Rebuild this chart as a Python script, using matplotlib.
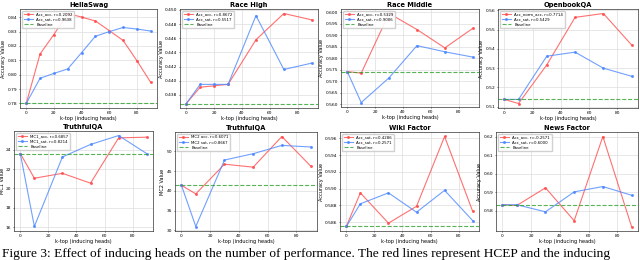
import numpy as np
import matplotlib
matplotlib.use("Agg")
import matplotlib.pyplot as plt

# k-top values (inducing heads)
k_full = [0, 10, 20, 30, 40, 50, 60, 70, 80, 90]
k_hr = [0, 10, 20, 30, 50, 70, 90]
k_short = [0, 10, 30, 50, 70, 90]

# HellaSwag
hs_acc = [0.780, 0.8144, 0.8279, 0.8425, 0.8400, 0.8373, 0.8306, 0.8238, 0.8097, 0.7946]
hs_sat = [0.780, 0.7975, 0.8009, 0.8040, 0.8153, 0.8267, 0.8299, 0.8328, 0.8317, 0.8303]
hs_base = 0.780

# Race High
rh_acc = [0.4368, 0.4391, 0.4393, 0.4395, 0.4458, 0.4495, 0.4486]
rh_sat = [0.4368, 0.4395, 0.4395, 0.4395, 0.4492, 0.4416, 0.4425]
rh_base = 0.4368

# Race Middle
rm_acc = [0.5742, 0.5735, 0.5995, 0.5925, 0.5845, 0.5930]
rm_sat = [0.5742, 0.5607, 0.5715, 0.5855, 0.5828, 0.5805]
rm_base = 0.5742

# OpenbookQA
ob_acc = [0.5138, 0.5117, 0.5317, 0.5563, 0.5583, 0.5420]
ob_sat = [0.5138, 0.5138, 0.5362, 0.5383, 0.5300, 0.5258]
ob_base = 0.5138

# TruthfulQA MC1
mc1_acc = [23.6, 21.05, 21.56, 20.54, 25.22, 25.29]
mc1_sat = [23.6, 16.07, 23.25, 24.54, 25.46, 23.6]
mc1_base = 23.6

# TruthfulQA MC2
mc2_acc = [41.4, 39.25, 46.75, 46.0, 53.75, 46.3]
mc2_sat = [41.4, 31.0, 47.8, 49.4, 51.5, 51.1]
mc2_base = 41.4

# Wiki Factor
wf_acc = [0.5855, 0.5895, 0.5859, 0.5879, 0.5962, 0.5873]
wf_sat = [0.5855, 0.5882, 0.5895, 0.5872, 0.5898, 0.5862]
wf_base = 0.5855

# News Factor
nf_acc = [0.5833, 0.5829, 0.5924, 0.5747, 0.6200, 0.5716]
nf_sat = [0.5833, 0.5833, 0.5795, 0.5902, 0.5931, 0.5884]
nf_base = 0.5833

paneles = [
    ("HellaSwag", k_full, hs_acc, hs_sat, hs_base, "Accuracy Value",
     ["Acc_acc, r=0.2092", "Acc_sat, r=0.9638"], [0.78, 0.79, 0.80, 0.81, 0.82, 0.83, 0.84], "{:.2f}"),
    ("Race High", k_hr, rh_acc, rh_sat, rh_base, "Accuracy Value",
     ["Acc_acc, r=0.8672", "Acc_sat, r=0.5517"], [0.438, 0.440, 0.442, 0.444, 0.446, 0.448, 0.450], "{:.3f}"),
    ("Race Middle", k_short, rm_acc, rm_sat, rm_base, "Accuracy Value",
     ["Acc_acc, r=0.5329", "Acc_sat, r=0.9006"], [0.560, 0.565, 0.570, 0.575, 0.580, 0.585, 0.590, 0.595, 0.600], "{:.3f}"),
    ("OpenbookQA", k_short, ob_acc, ob_sat, ob_base, "Accuracy Value",
     ["Acc_norm_acc, r=0.7714", "Acc_sat, r=0.5429"], [0.51, 0.52, 0.53, 0.54, 0.55, 0.56], "{:.2f}"),
    ("TruthfulQA", k_short, mc1_acc, mc1_sat, mc1_base, "MC1 Value",
     ["MC1_acc, r=0.6857", "MC1_sat, r=0.8214"], [16, 18, 20, 22, 24], "{:.0f}"),
    ("TruthfulQA", k_short, mc2_acc, mc2_sat, mc2_base, "MC2 Value",
     ["MC2 acc, r=0.6071", "MC2 sat, r=0.8667"], [30, 35, 40, 45, 50], "{:.0f}"),
    ("Wiki Factor", k_short, wf_acc, wf_sat, wf_base, "Accuracy Value",
     ["Acc_sat, r=0.4286", "Acc_sat, r=0.2571"], [0.586, 0.588, 0.590, 0.592, 0.594, 0.596], "{:.3f}"),
    ("News Factor", k_short, nf_acc, nf_sat, nf_base, "Accuracy Value",
     ["Acc_acc, r=-0.2571", "Acc_sat, r=0.6000"], [0.58, 0.59, 0.60, 0.61, 0.62], "{:.2f}"),
]

# posiciones en pixeles (izq, arriba, der, abajo)
cajas = [
    (20, 9, 157, 108), (180, 9, 318, 108), (341, 9, 479, 107), (498, 9, 638, 108),
    (14, 131, 153, 231), (175, 132, 317, 231), (340, 132, 479, 231), (496, 132, 638, 231),
]

W, H = 640, 260
fig = plt.figure(figsize=(6.4, 2.6), dpi=100)

for (titulo, k, acc, sat, base, ylab, etiquetas, yt, fmt), (l, t, r, b) in zip(paneles, cajas):
    ax = fig.add_axes([l / W, 1 - b / H, (r - l) / W, (b - t) / H])
    ax.plot(k, acc, color="#ff4d4d", alpha=0.8, lw=0.8, marker="o", ms=1.2, label=etiquetas[0])
    ax.plot(k, sat, color="#4d88ff", alpha=0.8, lw=0.8, marker="o", ms=1.2, label=etiquetas[1])
    ax.axhline(base, color="#2ca02c", ls="--", lw=0.8, alpha=0.8, label="Baseline")
    ax.set_title(titulo, fontsize=4.8, fontweight="bold", pad=1.2)
    ax.set_xlabel("k-top (inducing heads)", fontsize=3.6, labelpad=1)
    ax.set_ylabel(ylab, fontsize=3.6, labelpad=0.8)
    ax.set_xticks([0, 20, 40, 60, 80])
    ax.set_yticks(yt)
    ax.set_yticklabels([fmt.format(v) for v in yt])
    ax.tick_params(labelsize=3.2, length=1, width=0.4, pad=1)
    ax.grid(True, color="#dddddd", lw=0.5)
    for s in ax.spines.values():
        s.set_linewidth(0.5)
        s.set_color("#333333")
    ax.legend(loc="upper left", fontsize=2.8, frameon=True, framealpha=0.9,
              handlelength=2.5, borderpad=0.4, labelspacing=0.3, edgecolor="#cccccc")

fig.text(0.003, 1 - 256.5 / H,
         "Figure 3: Effect of inducing heads on the number of performance. The red lines represent HCEP and the inducing",
         fontsize=9.6, family="Liberation Serif", va="baseline", ha="left")

fig.savefig("out.png", dpi=100)
